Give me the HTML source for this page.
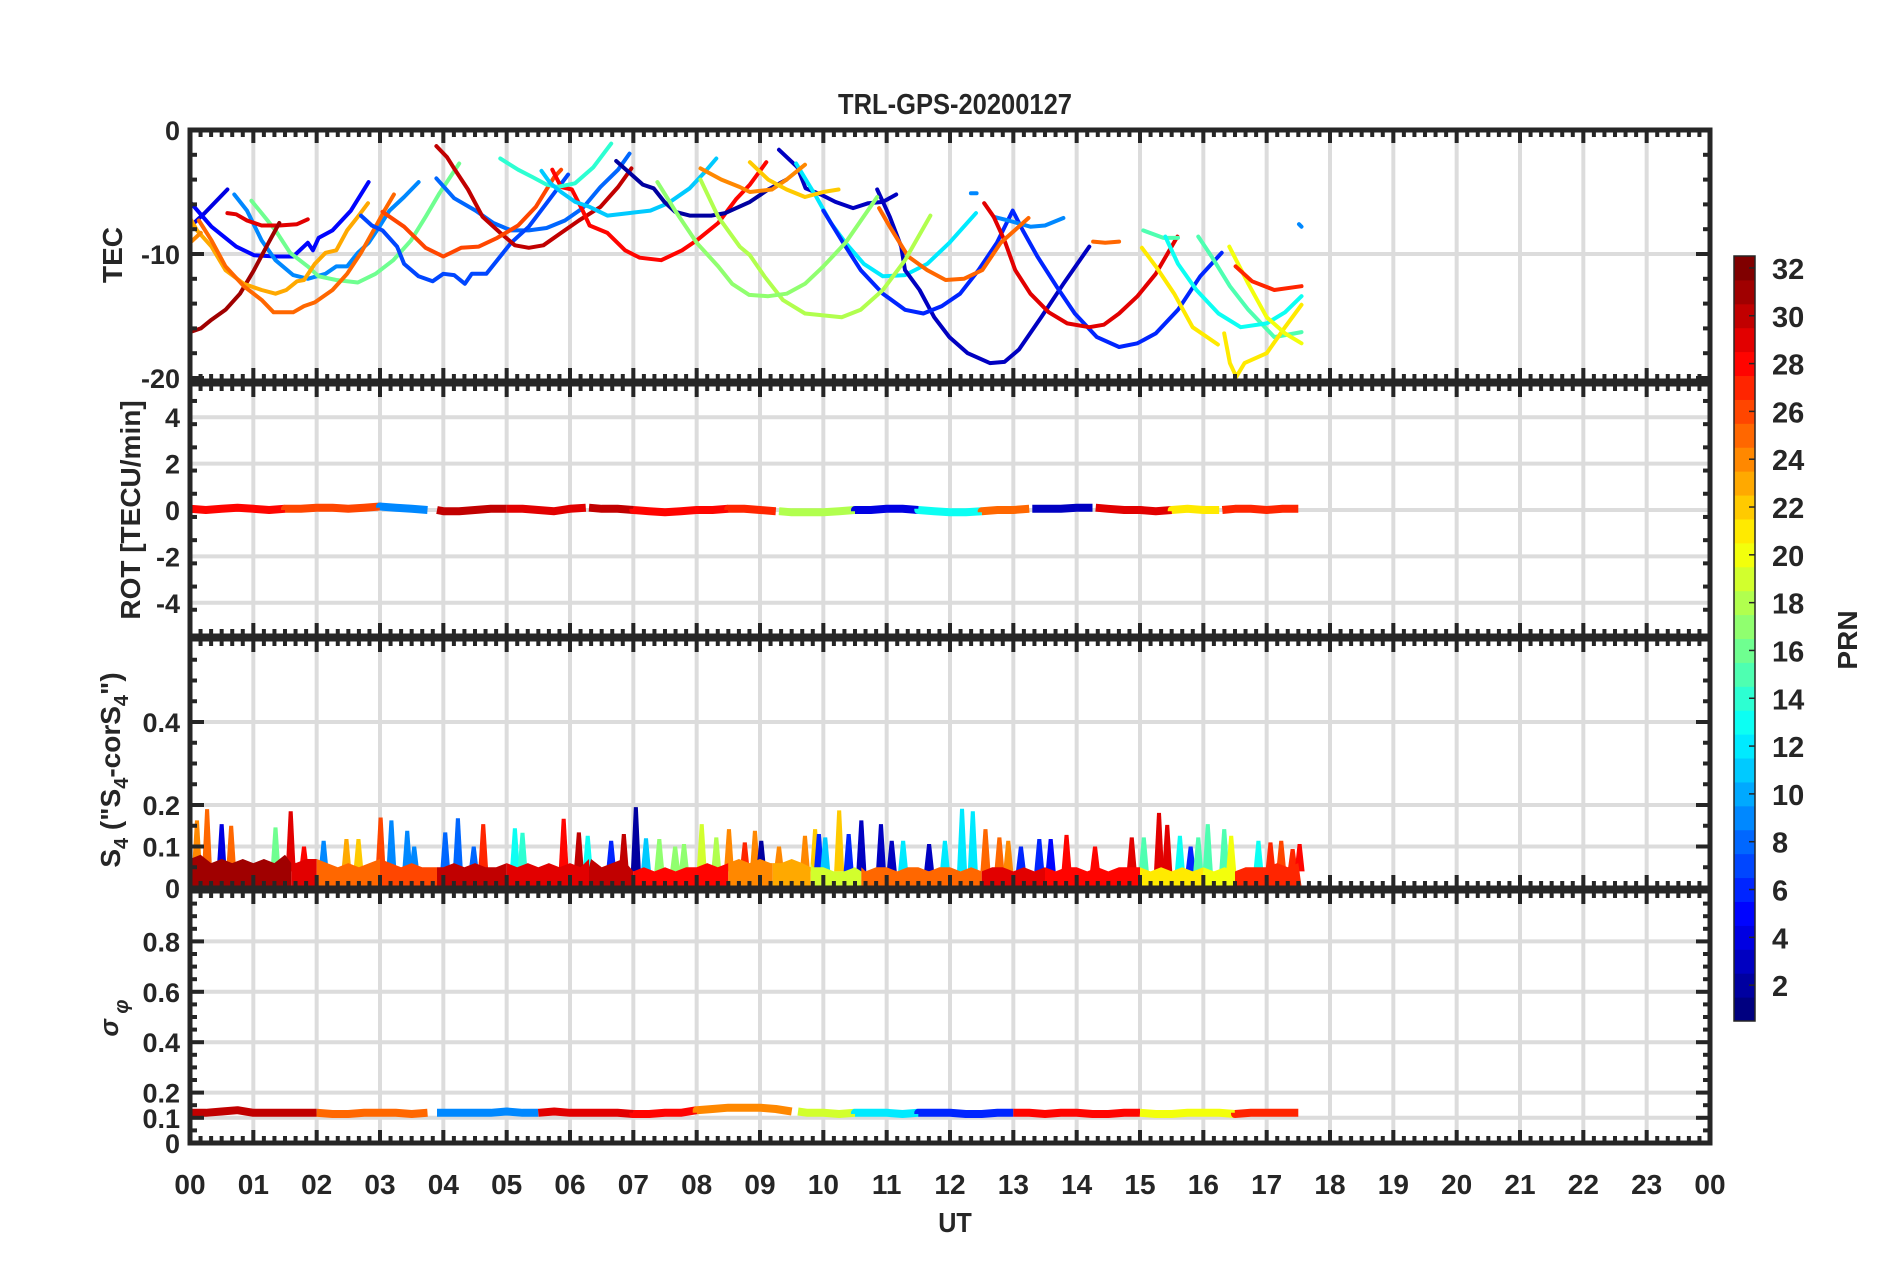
<!DOCTYPE html>
<html><head><meta charset="utf-8"><style>
html,body{margin:0;padding:0;background:#fff}
svg{display:block}
text{font-family:"Liberation Sans",sans-serif;fill:#262626;font-weight:bold}
</style></head>
<body>
<svg id="chart" width="1902" height="1272" viewBox="0 0 1902 1272" xmlns="http://www.w3.org/2000/svg">
<rect width="1902" height="1272" fill="#fff"/>
<g id="grid"></g><g id="marks"></g><g id="axes"></g><g id="labels"></g>
<text transform="translate(955,114) scale(0.88,1)" text-anchor="middle" font-size="29">TRL-GPS-20200127</text>
<text transform="translate(955,1232) scale(0.9,1)" text-anchor="middle" font-size="28">UT</text>
<text transform="translate(122,255) rotate(-90)" text-anchor="middle" font-size="28">TEC</text>
<text transform="translate(140,510) rotate(-90)" text-anchor="middle" font-size="28">ROT [TECU/min]</text>
<text transform="translate(120,770) rotate(-90)" text-anchor="middle" font-size="28">S<tspan font-size="20" dy="8">4</tspan><tspan dy="-8"> ("S</tspan><tspan font-size="20" dy="8">4</tspan><tspan dy="-8">-corS</tspan><tspan font-size="20" dy="8">4</tspan><tspan dy="-8">")</tspan></text>
<text transform="translate(118,1018) rotate(-90)" text-anchor="middle" font-size="26" font-style="italic" font-weight="normal" font-family="Liberation Serif, serif">σ<tspan font-size="20" dy="10"> φ</tspan></text>
<text transform="translate(1857,640) rotate(-90)" text-anchor="middle" font-size="28">PRN</text>
</svg>
<script>
// ---- data ----
const tecPrn = [4,5,9,16,29,31,23,25,24,8,7,30,26,28,14,11,2,3,12,3,6,9,9,9,29,25,25,18,17,24,22,15,15,13,21,21,20,27];
const tecHours = [
[0,0.23,0.59],
[0,0.34,0.73,1.01,1.35,1.63,1.86,1.94,2.03,2.25,2.54,2.82],
[0.70,0.90,1.13,1.35,1.63,1.86,2.14,2.31,2.48,2.65,2.82,2.99,3.15,3.38,3.61],
[0.97,1.13,1.35,1.58,1.86,2.03,2.31,2.65,2.93,3.21,3.49,3.72,3.94,4.25],
[0.59,0.73,0.90,1.13,1.41,1.69,1.86],
[0,0.17,0.34,0.56,0.79,1.01,1.24,1.41],
[0,0.11,0.34,0.56,0.85,1.13,1.35,1.52,1.69,1.80,1.97,2.14,2.31,2.48,2.65,2.81],
[0.14,0.34,0.56,0.85,1.13,1.32,1.63,1.80,1.97,2.25,2.48,2.70,2.93,3.07,3.22],
[0,0.17],
[3.89,4.17,4.51,4.79,5.07,5.35,5.63,5.92,6.20,6.48,6.76,6.94],
[2.70,2.87,3.04,3.27,3.38,3.61,3.83,4.0,4.17,4.34,4.45,4.68,4.85,5.07,5.35,5.63,5.97],
[3.89,4.06,4.17,4.39,4.62,4.90,5.13,5.35,5.58,5.86,6.14,6.48,6.76,6.97],
[3.04,3.38,3.72,4.0,4.28,4.56,4.85,5.18,5.46,5.75,5.86],
[5.72,5.86,6.03,6.20,6.31,6.59,6.87,7.10,7.44,7.77,8.0,8.34,8.62,8.84,9.1],
[4.90,5.18,5.41,5.63,5.80,6.08,6.37,6.65],
[5.55,5.69,5.86,6.08,6.31,6.59,6.93,7.27,7.55,7.89,8.11,8.31],
[6.73,6.93,7.15,7.32,7.49,7.66,7.89,8.23,8.45,8.84,9.13,9.42],
[9.30,9.59,9.72,9.96,10.19,10.47,10.71,10.94,11.15],
[9.57,9.89,10.12,10.35,10.64,10.94,11.29,11.64,11.99,12.41],
[10.85,11.05,11.23,11.29,11.52,11.75,11.99,12.28,12.63,12.86,13.09,13.44,13.79,14.2],
[10.0,10.29,10.59,10.94,11.29,11.58,11.87,12.16,12.45,12.74,12.99,13.15,13.38,13.68,13.97,14.32,14.67,14.96,15.25,15.60,15.95,16.29],
[12.69,12.92,13.27,13.5,13.79],
[12.33,12.42],
[17.51,17.55],
[12.54,12.69,12.86,13.03,13.27,13.56,13.85,14.2,14.43,14.67,14.96,15.25,15.59],
[10.88,11.05,11.34,11.64,11.93,12.22,12.51,12.80,13.24],
[14.26,14.45,14.67],
[8.06,8.34,8.68,8.84,9.07,9.36,9.71,10.29,10.59,10.94,11.29,11.69],
[7.38,7.66,8.0,8.34,8.56,8.83,9.13,9.42,9.71,10.0,10.35,10.85],
[8.06,8.39,8.68,8.84,9.19,9.42,9.71],
[8.84,9.13,9.42,9.71,10.0,10.24],
[15.05,15.37,15.6],
[15.92,16.13,16.42,16.71,17.12,17.55],
[15.4,15.6,15.89,16.24,16.59,17.0,17.29,17.55],
[15.03,15.25,15.54,15.83,16.23],
[16.33,16.42,16.52,16.65,17.0,17.29,17.55],
[16.41,16.71,17.0,17.29,17.55],
[16.51,16.77,17.12,17.55]
];
const tecValues = [
[-7.8,-6.7,-4.8],
[-5.8,-7.8,-9.4,-10.1,-10.2,-10.2,-9.1,-9.7,-8.7,-8.1,-6.5,-4.2],
[-5.2,-6.5,-8.9,-10.5,-11.7,-12.0,-11.6,-11.0,-11.0,-9.9,-9.1,-7.8,-6.5,-5.4,-4.2],
[-5.7,-6.7,-8.1,-9.9,-11.0,-11.8,-12.1,-12.3,-11.6,-10.5,-8.9,-7.0,-5.1,-2.7],
[-6.7,-6.8,-7.3,-7.7,-7.7,-7.6,-7.2],
[-16.3,-16.0,-15.3,-14.5,-13.2,-11.3,-9.1,-7.5],
[-7.1,-8.1,-9.4,-11.3,-12.4,-12.9,-13.2,-12.9,-12.2,-12.1,-10.8,-9.9,-9.7,-8.1,-7.0,-5.9],
[-7.3,-8.9,-11.0,-12.6,-13.7,-14.7,-14.7,-14.2,-13.9,-12.9,-11.6,-9.9,-7.8,-6.5,-5.2],
[-9.1,-8.3],
[-3.9,-5.5,-6.5,-7.5,-8.1,-8.1,-7.9,-7.3,-6.3,-4.6,-3.2,-1.9],
[-6.9,-7.7,-8.1,-9.4,-10.8,-11.8,-12.2,-11.6,-11.7,-12.4,-11.6,-11.6,-10.5,-9.1,-7.8,-5.9,-3.6],
[-1.3,-2.2,-3.1,-4.8,-7.0,-8.3,-9.3,-9.5,-9.3,-8.3,-7.3,-6.2,-4.6,-3.1],
[-6.6,-7.8,-9.5,-10.2,-9.5,-9.4,-8.7,-7.7,-6.2,-3.8,-3.2],
[-3.2,-4.6,-4.8,-6.5,-7.7,-8.3,-9.7,-10.3,-10.5,-9.7,-8.9,-7.5,-5.6,-4.4,-2.6],
[-2.3,-3.2,-3.8,-4.4,-4.6,-4.3,-3.0,-1.1],
[-3.3,-4.3,-5.0,-5.8,-6.2,-6.9,-6.7,-6.5,-5.9,-4.7,-3.5,-2.3],
[-2.5,-3.4,-4.4,-4.7,-5.8,-6.6,-6.9,-6.9,-6.7,-5.8,-4.8,-4.0],
[-1.6,-3.0,-4.7,-5.2,-5.8,-6.3,-5.9,-5.8,-5.2],
[-2.7,-5.4,-7.5,-9.1,-10.8,-11.8,-11.7,-10.8,-9.1,-6.7],
[-4.8,-7.0,-9.4,-11.3,-12.9,-15.1,-16.7,-18.0,-18.8,-18.7,-17.7,-15.1,-12.4,-9.4],
[-6.5,-8.9,-11.3,-13.2,-14.5,-14.8,-14.2,-13.2,-11.3,-9.1,-6.5,-8.1,-10.2,-12.6,-14.8,-16.7,-17.5,-17.2,-16.4,-14.5,-11.8,-9.9],
[-7.0,-7.3,-7.8,-7.7,-7.1],
[-5.1,-5.1],
[-7.6,-7.8],
[-5.9,-7.0,-8.9,-11.3,-13.2,-14.7,-15.6,-15.9,-15.7,-14.8,-13.4,-11.6,-8.6],
[-6.3,-7.8,-10.2,-11.3,-12.1,-12.0,-11.3,-9.1,-7.1],
[-9.0,-9.1,-9.0],
[-4.0,-7.0,-9.4,-10.1,-11.8,-13.7,-14.8,-15.1,-14.5,-12.9,-10.5,-6.9],
[-4.2,-6.5,-9.1,-11.0,-12.4,-13.3,-13.4,-13.2,-12.4,-11.0,-9.1,-5.4],
[-3.1,-4.0,-4.6,-5.0,-4.8,-4.0,-2.8],
[-2.6,-4.0,-4.8,-5.4,-5.0,-4.8],
[-8.1,-8.7,-8.7],
[-8.6,-10.2,-12.6,-14.5,-16.7,-16.3],
[-8.6,-10.8,-12.9,-14.8,-15.9,-15.6,-14.7,-13.4],
[-9.5,-11.0,-13.2,-15.9,-17.3],
[-16.4,-18.8,-19.9,-18.8,-18.0,-15.9,-14.1],
[-9.4,-12.4,-15.1,-16.4,-17.2],
[-11.0,-12.2,-12.9,-12.6]
];
const rotSegStart = [0,1.5,3,3.9,5,6.3,7,8.5,9.3,10.5,11.5,12.5,13.3,14.3,15.5,16.3];
const rotSegPrn = [28,26,9,30,29,30,28,27,18,4,13,25,3,29,21,27];
const rotValues = [0.05,0,0.05,0.1,0.05,0,0.05,0.05,0.1,0.1,0.05,0.1,0.15,0.1,0.05,0,-0.05,-0.05,0,0.05,0.05,0.05,0,-0.05,0.05,0.1,0.05,0.05,0,-0.05,-0.1,-0.05,0,0,0.05,0.05,0,-0.05,-0.1,-0.1,-0.1,-0.05,0,0,0.05,0.05,0,-0.05,-0.1,-0.1,-0.05,0,0,0.05,0.05,0.05,0.1,0.1,0.05,0,0,-0.05,0,0.05,0,0,0.05,0.05,0,0.05,0.05];
const sigSegStart = [0,2,3.9,5.5,7,8,9.6,10.5,11.5,13,15,16.5];
const sigSegPrn = [30,25,9,29,28,24,19,12,6,28,20,27];
const sigValues = [0.12,0.12,0.125,0.13,0.12,0.12,0.12,0.12,0.12,0.115,0.115,0.12,0.12,0.12,0.115,0.12,0.12,0.12,0.12,0.12,0.125,0.12,0.12,0.125,0.12,0.12,0.12,0.12,0.115,0.115,0.12,0.12,0.13,0.135,0.14,0.14,0.14,0.135,0.125,0.12,0.12,0.115,0.12,0.12,0.12,0.115,0.12,0.12,0.12,0.115,0.115,0.12,0.12,0.12,0.115,0.12,0.12,0.115,0.115,0.12,0.12,0.115,0.115,0.12,0.12,0.12,0.115,0.12,0.12,0.12,0.12];
const s4Band = [.07,.08,.06,.07,.06,.07, .06,.07,.06,.08,.06,.07, .07,.06,.05,.06,.05,.06, .07,.06,.05,.06,.05,.05, .05,.06,.05,.06,.05,.05, .06,.05,.06,.05,.06,.05, .06,.05,.07,.05,.06,.07, .04,.05,.04,.05,.04,.05, .05,.06,.05,.06,.07,.06, .07,.06,.06,.07,.06,.05, .05,.04,.04,.05,.04,.05, .05,.04,.05,.05,.04,.05, .05,.04,.05,.04,.05,.05, .04,.05,.04,.05,.04,.05, .05,.04,.05,.04,.05,.05, .05,.04,.05,.04,.05,.04, .05,.04,.05,.04,.05,.05, .05,.06,.05,.06];
const s4SegStart = [0,1.6,2.0,3.0,3.9,5.0,6.3,7.0,8.5,9.2,9.8,10.6,12.5,13.5,15.0,16.0,16.5];
const s4SegPrn = [31,29,25,26,30,29,30,28,24,23,19,25,29,28,21,20,27];
const s4SpikeHour = [0.11,0.27,0.50,0.65,1.35,1.59,1.80,2.11,2.47,2.66,3.01,3.18,3.43,3.54,4.03,4.23,4.48,4.63,5.13,5.25,5.90,6.14,6.28,6.65,6.85,7.04,7.2,7.41,7.66,7.80,8.08,8.31,8.51,8.76,8.92,9.02,9.30,9.71,9.87,9.93,10.03,10.25,10.40,10.60,10.91,11.08,11.26,11.67,11.92,12.19,12.36,12.56,12.78,12.92,13.12,13.41,13.59,13.84,14.29,14.87,15.06,15.30,15.43,15.63,15.80,15.92,16.07,16.33,16.44,16.87,17.06,17.23,17.41,17.52];
const s4SpikeValue = [0.163,0.19,0.154,0.15,0.146,0.185,0.10,0.114,0.118,0.118,0.17,0.163,0.138,0.10,0.134,0.168,0.10,0.154,0.144,0.133,0.167,0.134,0.126,0.114,0.13,0.195,0.12,0.118,0.10,0.106,0.154,0.122,0.142,0.11,0.138,0.114,0.10,0.126,0.142,0.13,0.122,0.187,0.13,0.163,0.154,0.114,0.114,0.106,0.114,0.191,0.185,0.142,0.122,0.114,0.10,0.118,0.118,0.128,0.10,0.122,0.122,0.181,0.152,0.126,0.10,0.122,0.154,0.142,0.126,0.114,0.11,0.114,0.094,0.106];
const s4SpikePrn = [24,25,4,25,16,29,28,9,23,22,26,9,9,9,8,8,8,27,13,14,28,30,13,6,30,2,11,17,17,17,19,18,24,27,24,2,24,24,22,6,11,22,6,3,3,3,12,3,12,12,12,25,25,24,6,6,5,28,28,29,15,29,29,13,6,15,15,15,20,13,27,26,27,28];
const xTickLabels = ["00","01","02","03","04","05","06","07","08","09","10","11","12","13","14","15","16","17","18","19","20","21","22","23","00"];
const prnTicks = [2,4,6,8,10,12,14,16,18,20,22,24,26,28,30,32];

// ---- scales ----
const X0=190, X1=1710;
const xs = h => X0 + h*(X1-X0)/24;
const P = {
  tec:{top:130,bot:381,y:v=>130 - v*12.4, ticks:[0,-10,-20], minor:2, vmin:-20, vmax:0},
  rot:{top:384,bot:636,y:v=>510 - v*23.2, ticks:[4,2,0,-2,-4], minor:1, vmin:-5.3, vmax:5.3},
  s4:{top:639,bot:888,y:v=>888 - v*415, ticks:[0.4,0.2,0.1,0], minor:0.05, vmin:0, vmax:0.6},
  sig:{top:891,bot:1143,y:v=>1143 - v*252, ticks:[0.8,0.6,0.4,0.2,0.1,0], minor:0.05, vmin:0, vmax:1}
};
function jet(p){
  const t=(p-1)/31;
  const c=v=>Math.round(255*Math.max(0,Math.min(1,v)));
  return `rgb(${c(1.5-Math.abs(4*t-3))},${c(1.5-Math.abs(4*t-2))},${c(1.5-Math.abs(4*t-1))})`;
}
const NS="http://www.w3.org/2000/svg";
function mk(tag,attrs,parent){const e=document.createElementNS(NS,tag);for(const k in attrs)e.setAttribute(k,attrs[k]);parent.appendChild(e);return e;}
const gGrid=document.getElementById('grid'),gMarks=document.getElementById('marks'),gAxes=document.getElementById('axes'),gLab=document.getElementById('labels');

// grid
for(const key in P){
  const p=P[key];
  for(let h=1;h<24;h++){
    const l=mk('line',{x1:xs(h),x2:xs(h),y1:p.top,y2:p.bot,stroke:'#dcdcdc','stroke-width':4},gGrid);
    
    
  }
  p.ticks.forEach(v=>{
    if(v===p.vmin||v===p.vmax) return;
    const l=mk('line',{x1:X0,x2:X1,y1:p.y(v),y2:p.y(v),stroke:'#dcdcdc','stroke-width':4},gGrid);
    
    
  });
}

// TEC arcs
tecPrn.forEach((prn,i)=>{
  const pts=tecHours[i].map((h,j)=>xs(h).toFixed(1)+','+P.tec.y(tecValues[i][j]).toFixed(1)).join(' ');
  const pl=mk('polyline',{points:pts,fill:'none',stroke:jet(prn),'stroke-width':4,'stroke-linejoin':'round','stroke-linecap':'round'},gMarks);
  
  
});

function bandSeries(values,dt,segStart,segPrn,panel,width,name){
  segStart.forEach((s,k)=>{
    const e = k+1<segStart.length ? segStart[k+1] : 17.55;
    const pts=[];
    values.forEach((v,j)=>{const h=j*dt; if(h>=s-dt && h<=e+1e-9) pts.push(xs(Math.max(s,Math.min(e,h))).toFixed(1)+','+panel.y(v).toFixed(1));});
    const pl=mk('polyline',{points:pts.join(' '),fill:'none',stroke:jet(segPrn[k]),'stroke-width':width,'stroke-linejoin':'round'},gMarks);
    
    
  });
}
bandSeries(rotValues,0.25,rotSegStart,rotSegPrn,P.rot,8,'rot-series');
bandSeries(sigValues,0.25,sigSegStart,sigSegPrn,P.sig,8,'sigma-series');

// S4 spikes
s4SpikeHour.forEach((h,i)=>{
  const x=xs(h), y=P.s4.y(s4SpikeValue[i]), yb=P.s4.y(0.04);
  const pg=mk('polygon',{points:`${x-5},${yb} ${x-2},${y} ${x+2},${y} ${x+5},${yb}`,fill:jet(s4SpikePrn[i])},gMarks);
  
  
});
// S4 band
s4SegStart.forEach((s,k)=>{
  const e = k+1<s4SegStart.length ? s4SegStart[k+1] : 17.55;
  const dt=1/6; const pts=[];
  s4Band.forEach((v,j)=>{const h=j*dt; if(h>=s-dt && h<=e+dt) pts.push(xs(Math.max(s,Math.min(e,h))).toFixed(1)+','+P.s4.y(v).toFixed(1));});
  pts.push(xs(e).toFixed(1)+','+P.s4.y(0.005)); pts.push(xs(s).toFixed(1)+','+P.s4.y(0.005));
  const pg=mk('polygon',{points:pts.join(' '),fill:jet(s4SegPrn[k])},gMarks);
  
  
});

// axes
const AX='#262626';
for(const key in P){
  const p=P[key];
  const r=mk('rect',{x:X0,y:p.top,width:X1-X0,height:p.bot-p.top,fill:'none',stroke:AX,'stroke-width':5},gAxes);
  
  
  for(let m=0;m<=144;m++){
    const x=xs(m/6), L=(m%6===0)?13:7;
    mk('line',{x1:x,x2:x,y1:p.top,y2:p.top+L,stroke:AX,'stroke-width':4},gAxes);
    mk('line',{x1:x,x2:x,y1:p.bot,y2:p.bot-L,stroke:AX,'stroke-width':4},gAxes);
  }
  const n=Math.round((p.vmax-p.vmin)/p.minor);
  for(let k=0;k<=n;k++){
    const v=p.vmin+k*p.minor;
    if(key==='rot' && Math.abs(v)>5.01) continue;
    const isMaj=p.ticks.some(t=>Math.abs(t-v)<1e-6);
    const L=isMaj?14:7, y=p.y(v);
    mk('line',{x1:X0,x2:X0+L,y1:y,y2:y,stroke:AX,'stroke-width':4},gAxes);
    mk('line',{x1:X1,x2:X1-L,y1:y,y2:y,stroke:AX,'stroke-width':4},gAxes);
  }
  p.ticks.forEach(v=>{
    const t=mk('text',{x:X0-10,y:p.y(v)+10,'text-anchor':'end','font-size':27},gLab);
    t.textContent=String(v);
    
    
  });
}
xTickLabels.forEach((s,i)=>{
  const t=mk('text',{x:xs(i),y:1194,'text-anchor':'middle','font-size':28},gLab);
  t.textContent=s;
  
  
});

// colorbar
const CB={x:1734,w:21,top:256,bot:1021};
const cy=v=>CB.bot-(v-0.5)/32*(CB.bot-CB.top);
for(let p=1;p<=32;p++){
  const r=mk('rect',{x:CB.x,y:cy(p+0.5),width:CB.w,height:(CB.bot-CB.top)/32+0.5,fill:jet(p)},gMarks);
  
  
}
const cbf=mk('rect',{x:CB.x,y:CB.top,width:CB.w,height:CB.bot-CB.top,fill:'none',stroke:AX,'stroke-width':1.5},gAxes);


prnTicks.forEach(v=>{
  mk('line',{x1:CB.x+CB.w-6,x2:CB.x+CB.w,y1:cy(v),y2:cy(v),stroke:AX,'stroke-width':1.5},gAxes);
  const t=mk('text',{x:1772,y:cy(v)+11,'font-size':29},gLab);
  t.textContent=String(v);
  
  
});
</script>
</body></html>
